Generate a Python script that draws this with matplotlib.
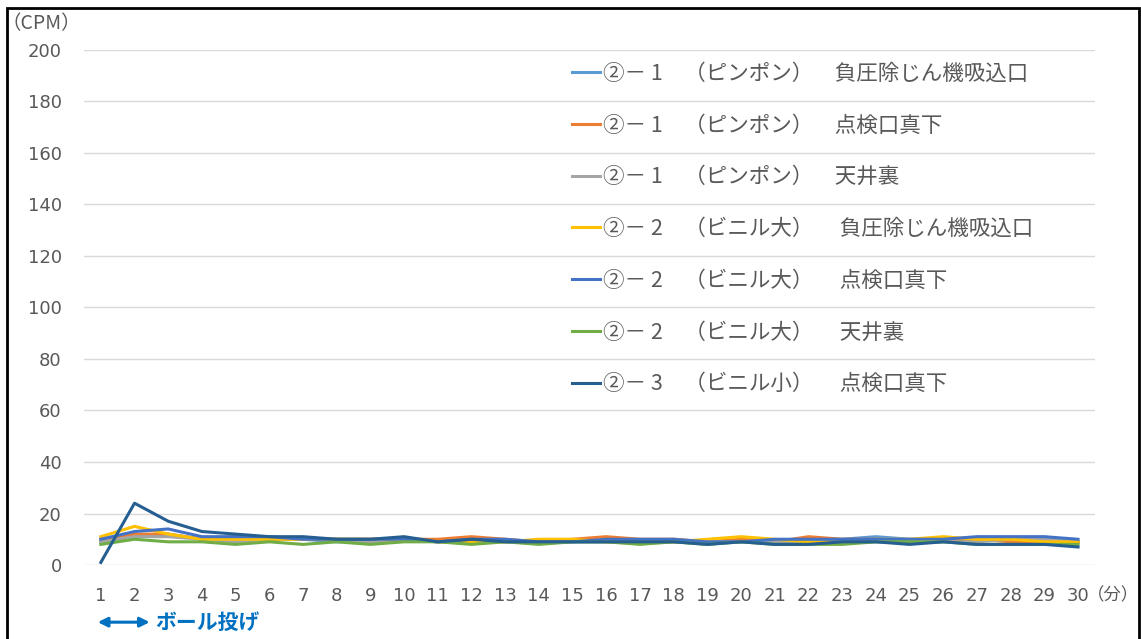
import matplotlib
matplotlib.use("Agg")
import matplotlib.pyplot as plt
from matplotlib.patches import Rectangle

plt.rcParams['font.family'] = ['Noto Sans CJK JP', 'DejaVu Sans']

minutes = list(range(1, 31))

s1_fuatsu = [9, 11, 12, 10, 10, 10, 10, 9, 9, 10, 9, 10, 9, 9, 9, 9, 9, 9, 9, 9, 9, 10, 10, 11, 10, 10, 10, 10, 10, 9]
s1_tenken = [10, 12, 12, 10, 11, 10, 10, 10, 10, 10, 10, 11, 10, 9, 10, 11, 10, 10, 9, 10, 9, 11, 10, 10, 9, 10, 10, 9, 9, 9]
s1_tenjo = [9, 11, 11, 10, 9, 10, 10, 10, 9, 10, 9, 9, 9, 9, 9, 9, 9, 9, 9, 9, 9, 9, 9, 9, 9, 9, 9, 10, 10, 9]
s2_fuatsu = [11, 15, 12, 10, 10, 10, 10, 10, 10, 10, 9, 9, 9, 10, 10, 9, 9, 9, 10, 11, 10, 9, 9, 10, 10, 11, 10, 10, 9, 9]
s2_tenken = [10, 13, 14, 11, 11, 11, 10, 10, 10, 10, 9, 10, 10, 9, 9, 10, 10, 10, 9, 9, 10, 10, 10, 10, 10, 10, 11, 11, 11, 10]
s2_tenjo = [8, 10, 9, 9, 8, 9, 8, 9, 8, 9, 9, 8, 9, 8, 9, 9, 8, 9, 8, 9, 8, 8, 8, 9, 9, 9, 8, 8, 8, 8]
s3_tenken = [1, 24, 17, 13, 12, 11, 11, 10, 10, 11, 9, 10, 9, 9, 9, 9, 9, 9, 8, 9, 8, 8, 9, 9, 8, 9, 8, 8, 8, 7]

labels = [
    "②－ 1　（ピンポン）　負圧除じん機吸込口",
    "②－ 1　（ピンポン）　点検口真下",
    "②－ 1　（ピンポン）　天井裏",
    "②－ 2　（ビニル大）　 負圧除じん機吸込口",
    "②－ 2　（ビニル大）　 点検口真下",
    "②－ 2　（ビニル大）　 天井裏",
    "②－ 3　（ビニル小）　 点検口真下",
]
series = [s1_fuatsu, s1_tenken, s1_tenjo, s2_fuatsu, s2_tenken, s2_tenjo, s3_tenken]
colors = ['#5B9BD5', '#ED7D31', '#A5A5A5', '#FFC000', '#4472C4', '#70AD47', '#255E91']

fig = plt.figure(figsize=(11.41, 6.39), dpi=100)
ax = fig.add_axes([0.0736, 0.1158, 0.886, 0.806])

for vals, lab, c in zip(series, labels, colors):
    ax.plot(minutes, vals, color=c, lw=2.2, label=lab, solid_joinstyle='round')

ax.set_xlim(0.5, 30.5)
ax.set_ylim(0, 200)
ax.set_yticks(range(0, 201, 20))
ax.set_xticks(minutes)
ax.grid(axis='y', color='#D9D9D9', lw=1)
ax.set_axisbelow(True)
for sp in ax.spines.values():
    sp.set_visible(False)
ax.tick_params(length=0, labelsize=13, colors='#595959')
ax.tick_params(axis='y', pad=16)
ax.tick_params(axis='x', pad=16)
for t in ax.get_xticklabels() + ax.get_yticklabels():
    t.set_family('DejaVu Sans')

leg = ax.legend(loc='upper left', bbox_to_anchor=(0.483, 0.975), frameon=False,
                fontsize=15.5, handlelength=1.3, handletextpad=0.15, labelspacing=1.38,
                borderpad=0, borderaxespad=0)
for t in leg.get_texts():
    t.set_color('#595959')

fig.text(0.001, 0.963, "（CPM）", fontsize=14, color='#595959', va='center')
fig.text(0.953, 0.069, "（分）", fontsize=12.5, color='#595959', va='center')

# ball-throw annotation
ax.annotate("", xy=(0.91, -0.111), xytext=(2.45, -0.111),
            xycoords=('data', 'axes fraction'), textcoords=('data', 'axes fraction'),
            arrowprops=dict(arrowstyle='<|-|>', color='#0070C0', lw=2.2,
                            mutation_scale=14, shrinkA=0, shrinkB=0))
ax.text(2.6, -0.111, "ボール投げ", transform=ax.get_xaxis_transform(),
        fontsize=15, fontweight='bold', color='#0070C0', va='center', ha='left')

fig.patches.append(Rectangle((0.006, -0.05), 0.992, 1.037, transform=fig.transFigure,
                             fill=False, edgecolor='black', lw=2))

fig.savefig("out.png", dpi=100)
